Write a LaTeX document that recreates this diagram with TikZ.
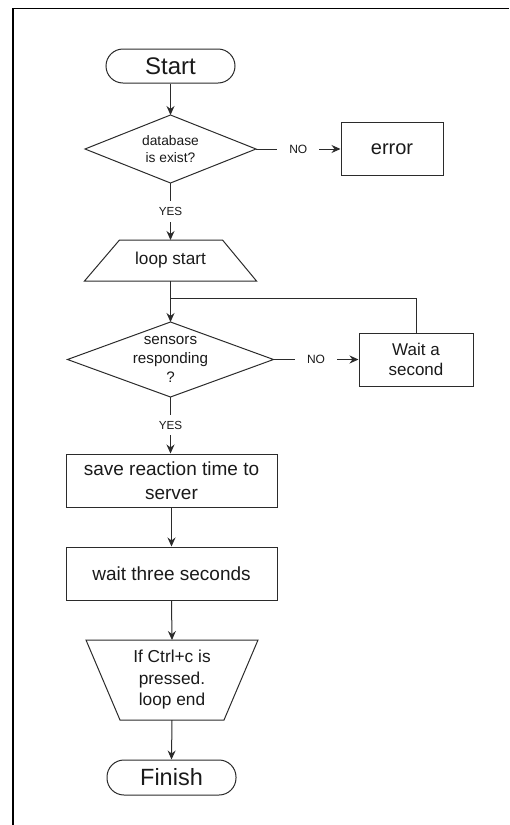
\documentclass[tikz,border=0pt]{standalone}
\usepackage{fontspec}
\setmainfont{Liberation Sans}
\usetikzlibrary{arrows.meta}
\definecolor{ln}{HTML}{2B2B2B}
\definecolor{tx}{HTML}{1A1A1A}
\begin{document}
\begin{tikzpicture}[x=1pt,y=-1pt,
  line/.style={draw=ln, line width=1pt, line join=miter},
  arr/.style={draw=ln, line width=1pt, -{Stealth[length=9pt,width=8pt,inset=3pt]}},
  shp/.style={rectangle, inner sep=0pt, outer sep=0pt, align=center, text=tx},
  boxed/.style={shp, draw=ln, line width=1pt, outer sep=0.5pt},
  term/.style={boxed, rounded corners=17pt},
  lbl/.style={fill=white, text=tx, font=\fontsize{12}{14}\selectfont, inner xsep=12pt, inner ysep=6pt},
]
\useasboundingbox (0,0) rectangle (509,825);
\draw[black, line width=1.5pt] (13,825) -- (13,8.5) -- (509,8.5);

\node[term, minimum width=129pt, minimum height=34pt, font=\fontsize{24}{28}\selectfont] (start) at (170.5,66) {Start};

\node[shp, minimum width=171pt, minimum height=68pt, font=\fontsize{13.8}{16.7}\selectfont] (d1) at (170.5,149) {database\\is exist?};
\draw[line] (d1.north) -- (d1.east) -- (d1.south) -- (d1.west) -- cycle;

\node[boxed, minimum width=102pt, minimum height=53pt, font=\fontsize{20}{24}\selectfont] (err) at (392,149) {error};

\node[shp, minimum width=172pt, minimum height=41pt, font=\fontsize{17.2}{20}\selectfont] (ls) at (170.5,260.5) {loop start};
\draw[line] (ls.south west) -- (ls.south east) -- ([xshift=-34pt]ls.north east) -- ([xshift=35pt]ls.north west) -- cycle;

\node[shp, minimum width=206pt, minimum height=75pt, font=\fontsize{15.2}{19}\selectfont] (d2) at (170.5,359.5) {sensors\\responding\\?};
\draw[line] (d2.north) -- (d2.east) -- (d2.south) -- (d2.west) -- cycle;

\node[boxed, minimum width=114pt, minimum height=53pt, font=\fontsize{17}{20}\selectfont] (wait) at (416,359.5) {Wait a\\second};

\node[boxed, minimum width=211pt, minimum height=53pt, font=\fontsize{19}{23.6}\selectfont] (save) at (171.5,480.5) {save reaction time to\\server};

\node[boxed, minimum width=211pt, minimum height=53pt, font=\fontsize{19}{23}\selectfont] (w3) at (171.5,573.5) {wait three seconds};

\node[shp, minimum width=172pt, minimum height=80pt, font=\fontsize{17.3}{21.5}\selectfont] (le) at (172,680) {If Ctrl+c is\\pressed.\\loop end};
\draw[line] (le.north west) -- (le.north east) -- ([xshift=-34pt]le.south east) -- ([xshift=34pt]le.south west) -- cycle;

\node[term, minimum width=129pt, minimum height=35pt, font=\fontsize{23.5}{28}\selectfont] (fin) at (171.5,777.5) {Finish};

\coordinate (j) at (170.5,298);

\draw[arr] (start.south) -- (d1.north);
\draw[arr] (d1.east) -- node[lbl]{NO} (err.west);
\draw[arr] (d1.south) -- node[lbl, font=\fontsize{11.7}{14}\selectfont]{YES} (ls.north);
\draw[arr] (ls.south) -- (d2.north);
\draw[line] (wait.north) |- (j);
\draw[arr] (d2.east) -- node[lbl]{NO} (wait.west);
\draw[arr] (d2.south) -- node[lbl, font=\fontsize{11.7}{14}\selectfont]{YES} (save.north -| d2.south);
\draw[arr] (save.south) -- (w3.north);
\draw[arr] (w3.south) -- (le.north);
\draw[arr] (le.south) -- (fin.north);
\end{tikzpicture}
\end{document}
